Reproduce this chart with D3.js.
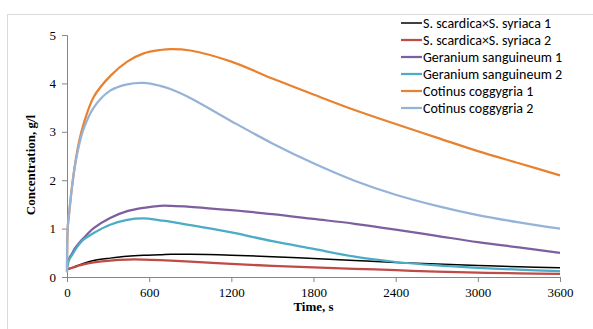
<!DOCTYPE html>
<html>
<head>
<meta charset="utf-8">
<script src="https://cdn.jsdelivr.net/npm/d3@7"></script>
<style>
  body { margin: 0; background: #fff; }
  svg { display: block; }
</style>
</head>
<body>
<svg id="chart" width="593" height="329"></svg>
<script>
// time points (s)
const times = [0, 5, 15, 36, 60, 90, 120, 195, 315, 440, 560, 680, 760, 900, 1200, 1500, 1800, 2100, 2400, 2700, 3000, 3300, 3600];

const scardica1 = [0.15, 0.16, 0.17, 0.19, 0.22, 0.25, 0.28, 0.34, 0.39, 0.43, 0.45, 0.46, 0.47, 0.47, 0.45, 0.42, 0.38, 0.34, 0.30, 0.27, 0.24, 0.21, 0.19];
const scardica2 = [0.15, 0.16, 0.17, 0.19, 0.21, 0.24, 0.26, 0.30, 0.34, 0.36, 0.36, 0.35, 0.34, 0.32, 0.27, 0.23, 0.20, 0.17, 0.14, 0.11, 0.09, 0.075, 0.065];
const geranium1 = [0.2, 0.3, 0.38, 0.48, 0.6, 0.71, 0.8, 1.01, 1.22, 1.36, 1.43, 1.47, 1.47, 1.45, 1.38, 1.30, 1.20, 1.10, 0.98, 0.85, 0.72, 0.61, 0.5];
const geranium2 = [0.15, 0.25, 0.35, 0.45, 0.56, 0.68, 0.77, 0.91, 1.08, 1.18, 1.21, 1.17, 1.14, 1.07, 0.92, 0.74, 0.58, 0.42, 0.31, 0.24, 0.19, 0.15, 0.12];
const cotinus1 = [0.1, 1.0, 1.3, 1.85, 2.35, 2.82, 3.15, 3.72, 4.15, 4.45, 4.62, 4.69, 4.71, 4.68, 4.45, 4.10, 3.77, 3.45, 3.16, 2.88, 2.6, 2.35, 2.1];
const cotinus2 = [0.1, 1.0, 1.3, 1.85, 2.33, 2.75, 3.05, 3.5, 3.85, 3.98, 4.01, 3.95, 3.88, 3.70, 3.22, 2.76, 2.35, 1.99, 1.70, 1.47, 1.28, 1.13, 1.0];

const seriesNames = ['S. scardica×S. syriaca 1', 'S. scardica×S. syriaca 2', 'Geranium sanguineum 1', 'Geranium sanguineum 2', 'Cotinus coggygria  1', 'Cotinus coggygria 2'];
const seriesValues = [scardica1, scardica2, geranium1, geranium2, cotinus1, cotinus2];
const seriesColors = ['#000000', '#be4b48', '#7d5fa0', '#4bacc6', '#e9822f', '#95b3d7'];

const xTicks = [0, 600, 1200, 1800, 2400, 3000, 3600];
const yTicks = [0, 1, 2, 3, 4, 5];

const svg = d3.select('#chart');
const margin = { top: 35, left: 67, right: 33, bottom: 52 };
const width = 593, height = 329;

// outer chart frame
svg.append('rect')
    .attr('x', 7.5).attr('y', 14.5)
    .attr('width', 640).attr('height', 400)
    .attr('fill', 'none')
    .attr('stroke', '#d9d9d9');

const x = d3.scaleLinear().domain([0, 3600]).range([margin.left, width - margin.right]);
const y = d3.scaleLinear().domain([0, 5]).range([height - margin.bottom, margin.top]);

const serif = '"Liberation Serif", "Times New Roman", serif';

const xAxis = svg.append('g')
    .attr('transform', `translate(0,${y(0)})`)
    .call(d3.axisBottom(x).tickValues(xTicks).tickSize(5).tickPadding(6).tickFormat(d3.format('d')));
const yAxis = svg.append('g')
    .attr('transform', `translate(${x(0)},0)`)
    .call(d3.axisLeft(y).tickValues(yTicks).tickSize(5).tickPadding(6).tickFormat(d3.format('d')));

[xAxis, yAxis].forEach(a => {
    a.select('.domain').attr('stroke', '#868686');
    a.selectAll('.tick line').attr('stroke', '#868686');
    a.selectAll('.tick text')
        .attr('fill', '#000')
        .style('font-family', serif)
        .style('font-size', '13px');
});

// series lines
const line = d3.line()
    .x(d => x(d[0]))
    .y(d => y(d[1]))
    .curve(d3.curveCatmullRom.alpha(0.5));

seriesValues.forEach((vals, i) => {
    svg.append('path')
        .datum(times.map((t, j) => [t, vals[j]]))
        .attr('fill', 'none')
        .attr('stroke', seriesColors[i])
        .attr('stroke-width', i === 0 ? 1.5 : 2.25)
        .attr('stroke-linejoin', 'round')
        .attr('d', line);
});

// axis titles
svg.append('text')
    .attr('x', (x(0) + x(3600)) / 2)
    .attr('y', 311)
    .attr('text-anchor', 'middle')
    .style('font-family', serif)
    .style('font-size', '13px')
    .style('font-weight', 'bold')
    .text('Time, s');

svg.append('text')
    .attr('transform', 'translate(35,165) rotate(-90)')
    .attr('text-anchor', 'middle')
    .style('font-family', serif)
    .style('font-size', '13px')
    .style('font-weight', 'bold')
    .text('Concentration, g/l');

// legend
const legend = svg.append('g').attr('transform', 'translate(401,23)');
seriesNames.forEach((name, i) => {
    const row = legend.append('g').attr('transform', `translate(0,${i * 17})`);
    row.append('line')
        .attr('x1', 0).attr('x2', 21)
        .attr('stroke', seriesColors[i])
        .attr('stroke-width', i === 0 ? 1.5 : 2.25);
    row.append('text')
        .attr('x', 22)
        .attr('dy', '0.35em')
        .style('font-family', 'Carlito, Lato, "Open Sans", sans-serif')
        .style('font-size', '14px')
        .attr('fill', '#000')
        .text(name);
});
</script>
</body>
</html>
